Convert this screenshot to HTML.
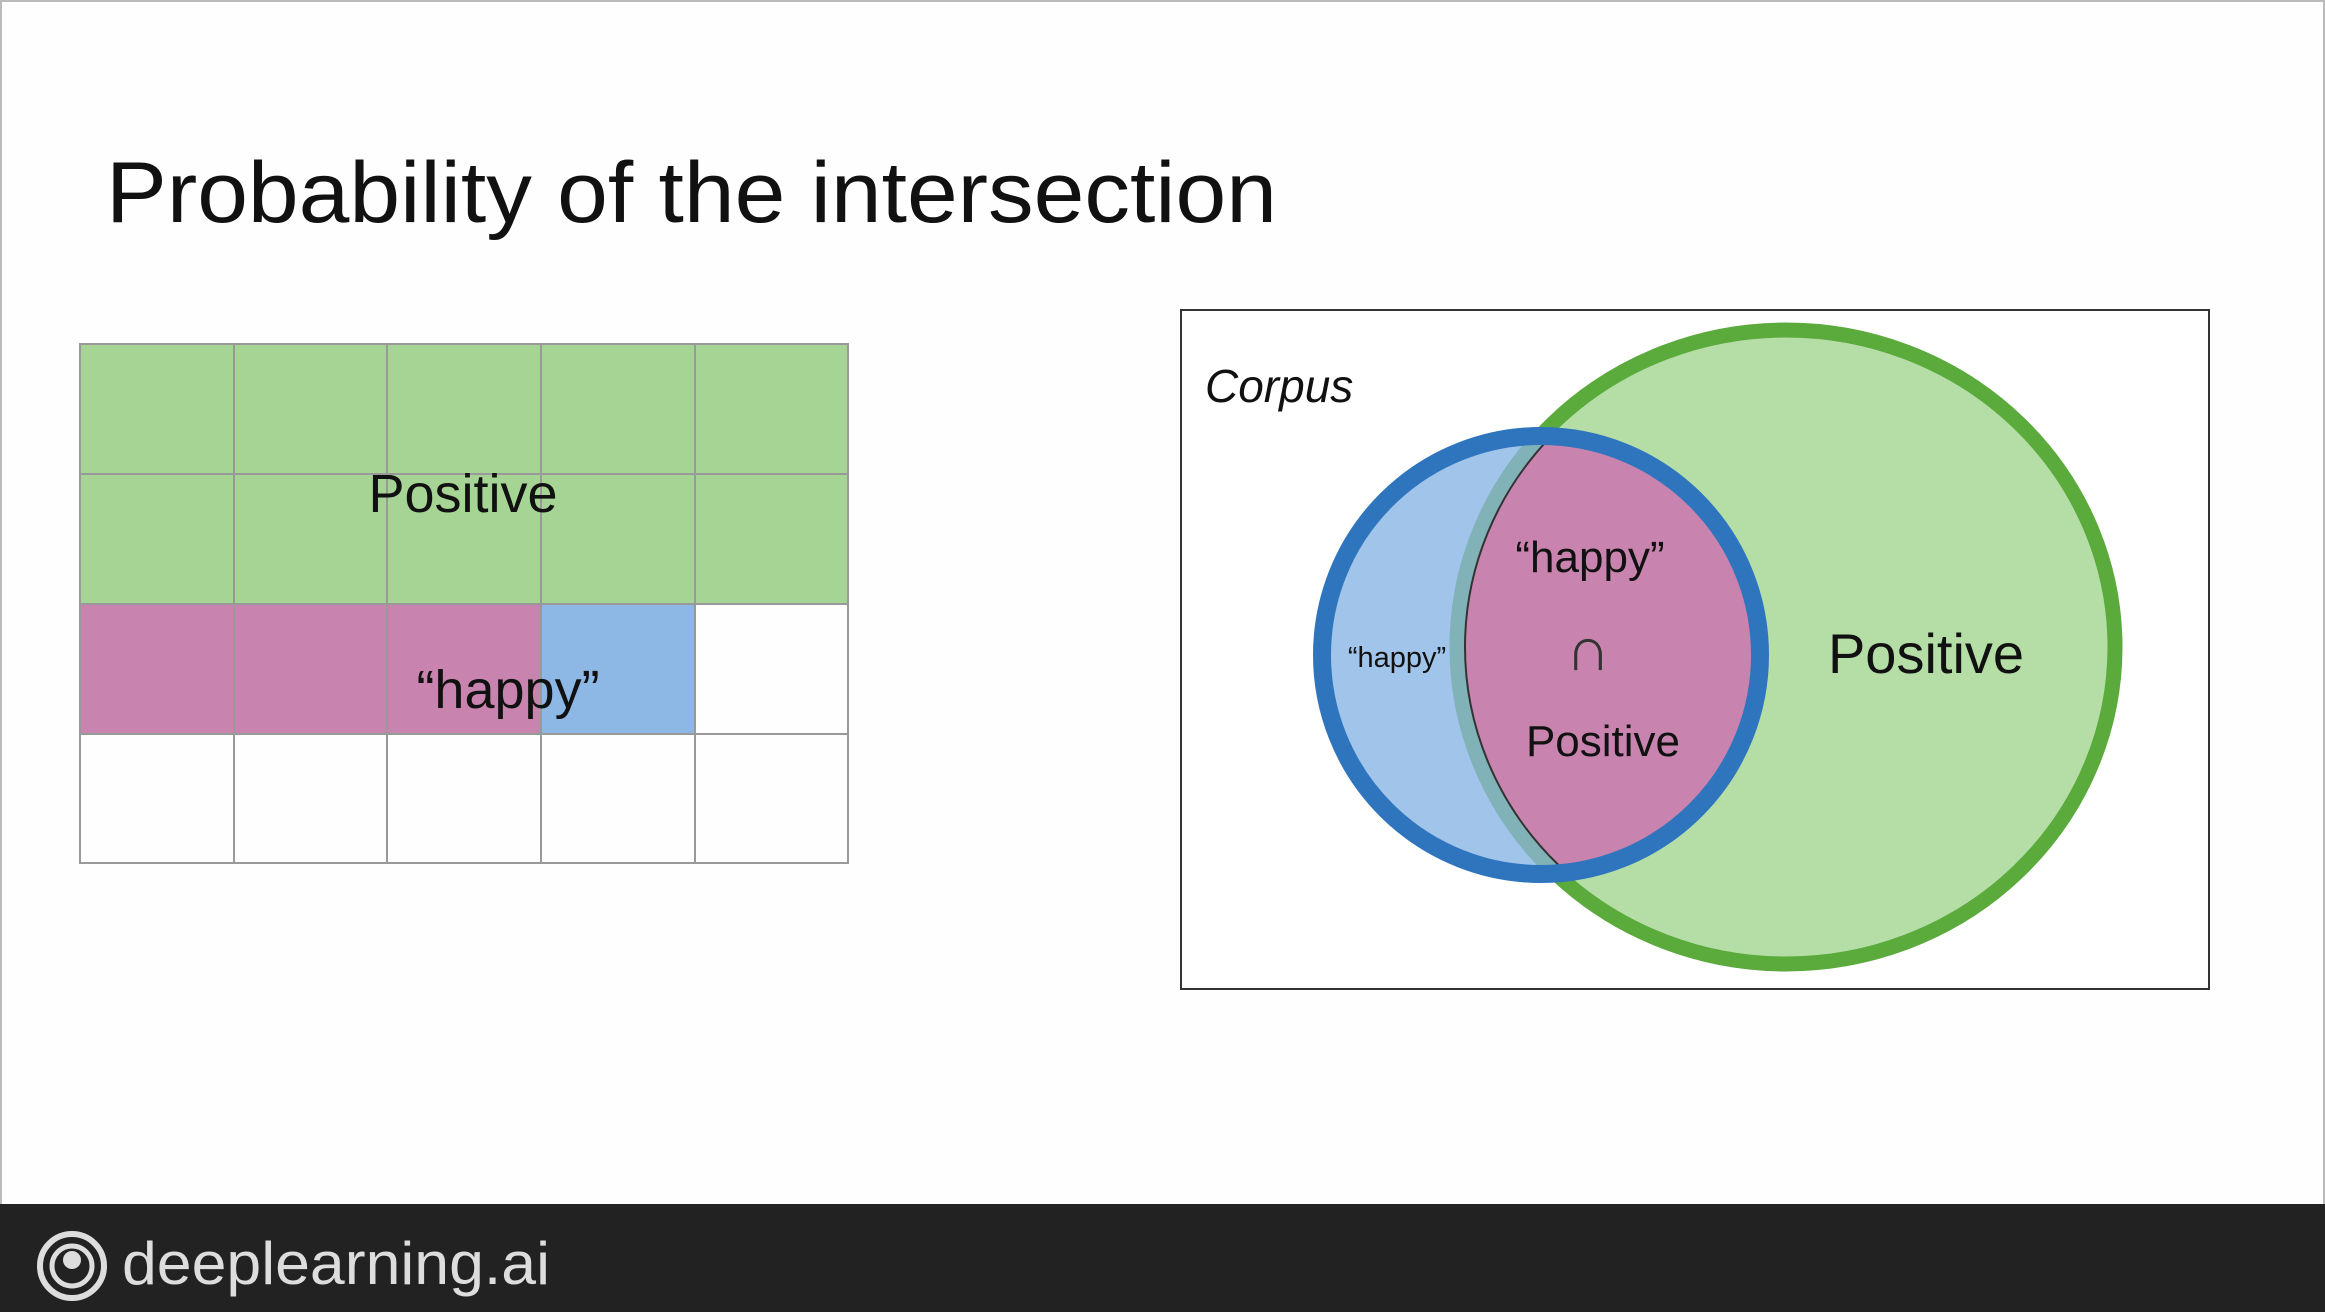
<!DOCTYPE html>
<html><head><meta charset="utf-8"><style>
html,body{margin:0;padding:0;}
body{width:2325px;height:1312px;position:relative;overflow:hidden;background:#fefefe;font-family:"Liberation Sans",sans-serif;}
.frame{position:absolute;left:0;top:0;width:2321px;height:1308px;border:2px solid #bbb;}
</style></head><body>
<div class="frame"></div>
<svg width="2325" height="1312" style="position:absolute;left:0;top:0">
<defs>
<clipPath id="bc"><circle cx="1541" cy="655" r="219"/></clipPath>
</defs>
<text x="106" y="222" font-size="86" fill="#111" textLength="1171" lengthAdjust="spacingAndGlyphs" font-family="Liberation Sans, sans-serif">Probability of the intersection</text>
<!-- grid -->
<rect x="80" y="344" width="768" height="260" fill="#a6d494"/>
<rect x="80" y="604" width="461" height="130" fill="#c884ae"/>
<rect x="541" y="604" width="154" height="130" fill="#8db8e6"/>
<g stroke="#999" stroke-width="2" fill="none">
<rect x="80" y="344" width="768" height="519"/>
<line x1="234" y1="344" x2="234" y2="863"/><line x1="387" y1="344" x2="387" y2="863"/>
<line x1="541" y1="344" x2="541" y2="863"/><line x1="695" y1="344" x2="695" y2="863"/>
<line x1="80" y1="474" x2="848" y2="474"/><line x1="80" y1="604" x2="848" y2="604"/>
<line x1="80" y1="734" x2="848" y2="734"/>
</g>
<text x="463" y="512" font-size="54" text-anchor="middle" fill="#111">Positive</text>
<text x="508" y="708" font-size="54" text-anchor="middle" fill="#111">“happy”</text>
<!-- venn box -->
<rect x="1181" y="310" width="1028" height="679" fill="#fff" stroke="#333" stroke-width="2"/>
<text x="1205" y="402" font-size="46" font-style="italic" fill="#111">Corpus</text>
<ellipse cx="1786" cy="647" rx="329" ry="317" fill="#b4dea6" stroke="#5aaa3c" stroke-width="15"/>
<circle cx="1541" cy="655" r="219" fill="#a0c4ea"/>
<g clip-path="url(#bc)">
<ellipse cx="1786" cy="647" rx="329" ry="317" fill="#c884ae" stroke="#80b2b8" stroke-width="15"/>
<ellipse cx="1786" cy="647" rx="321" ry="309" fill="none" stroke="#333" stroke-width="2"/>
</g>
<circle cx="1541" cy="655" r="219" fill="none" stroke="#2f75be" stroke-width="18"/>
<text x="1590" y="572" font-size="44" text-anchor="middle" fill="#111">“happy”</text>
<text x="1588" y="670" font-size="62" text-anchor="middle" fill="#333">∩</text>
<text x="1603" y="756" font-size="44" text-anchor="middle" fill="#111">Positive</text>
<text x="1397" y="667" font-size="29" text-anchor="middle" fill="#111">“happy”</text>
<text x="1926" y="673" font-size="56" text-anchor="middle" fill="#111">Positive</text>
<!-- footer -->
<rect x="0" y="1204" width="2325" height="108" fill="#222"/>
<circle cx="72" cy="1266" r="32" fill="none" stroke="#ddd" stroke-width="6"/>
<circle cx="72" cy="1266" r="20" fill="none" stroke="#ddd" stroke-width="5"/>
<circle cx="72" cy="1260" r="9" fill="#ddd"/>
<text x="122" y="1284" font-size="60" fill="#ddd" textLength="428" lengthAdjust="spacingAndGlyphs">deeplearning.ai</text>
</svg>
</body></html>
